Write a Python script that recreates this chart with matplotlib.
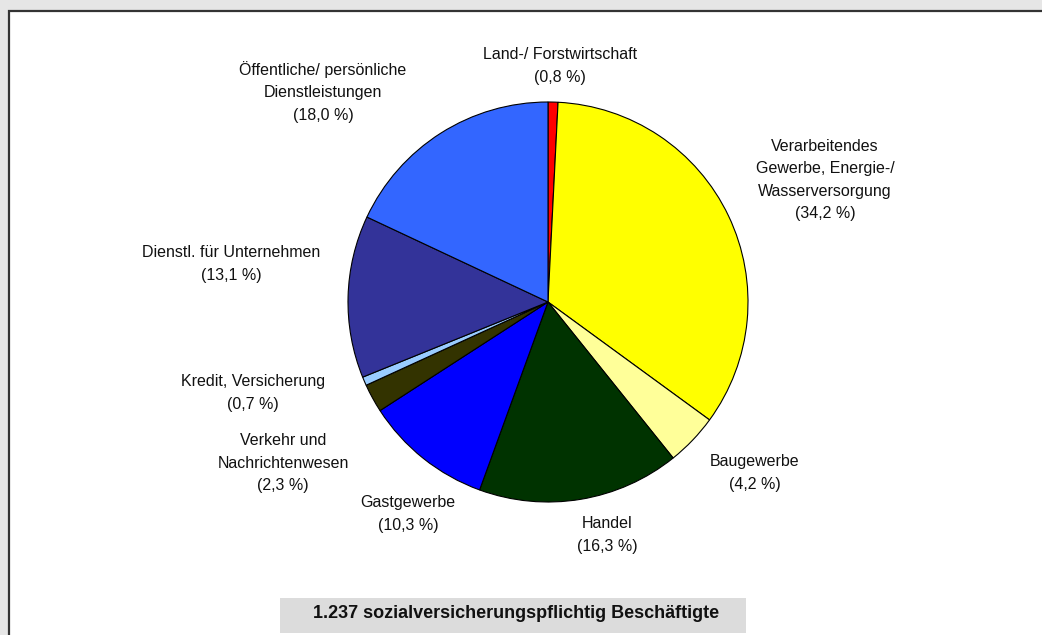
import matplotlib
matplotlib.use("Agg")
import matplotlib.pyplot as plt
from matplotlib.patches import Rectangle

plt.rcParams['font.family'] = ['Liberation Sans', 'DejaVu Sans']

# Anteile der Wirtschaftsbereiche (im Uhrzeigersinn ab 12 Uhr)
branchen = [
    'Land-/ Forstwirtschaft',
    'Verarbeitendes\nGewerbe, Energie-/\nWasserversorgung',
    'Baugewerbe',
    'Handel',
    'Gastgewerbe',
    'Verkehr und\nNachrichtenwesen',
    'Kredit, Versicherung',
    'Dienstl. für Unternehmen',
    'Öffentliche/ persönliche\nDienstleistungen',
]
anteile = [0.8, 34.2, 4.2, 16.3, 10.3, 2.3, 0.7, 13.1, 18.0]
farben = ['#ff0000', '#ffff00', '#ffff99', '#003300', '#0000ff',
          '#333300', '#99ccff', '#333399', '#3366ff']

# Beschriftungspositionen in Pixeln (x, y von oben)
label_pos = [(560, 66), (825, 180), (755, 473), (607, 535), (408, 514),
             (283, 463), (253, 393), (231, 264), (323, 92)]

gesamt = '1.237 sozialversicherungspflichtig Beschäftigte'

W, H = 1042, 635
fig = plt.figure(figsize=(W / 100, H / 100), dpi=100, facecolor='#e6e6e6')
ax = fig.add_axes([0, 0, 1, 1])

# weisser Rahmen
ax.add_patch(Rectangle((8.5, -20), W + 20, H - 10.5 + 20, facecolor='white',
                       edgecolor='#333333', linewidth=1.6, zorder=0))

ax.pie(anteile, colors=farben, startangle=90, counterclock=False,
       center=(548, H - 302), radius=200, frame=True,
       wedgeprops=dict(edgecolor='black', linewidth=0.8))
ax.set_xlim(0, W)
ax.set_ylim(0, H)
ax.set_aspect('equal')
ax.axis('off')

for name, wert, (x, y) in zip(branchen, anteile, label_pos):
    prozent = f'{wert:.1f}'.replace('.', ',')
    txt = f'{name}\n({prozent} %)'
    ax.text(x, H - y, txt, ha='center', va='center', multialignment='center',
            fontsize=11.5, linespacing=1.6, color='#111111')

# Summenfeld unten
ax.add_patch(Rectangle((280, H - 633), 466, 35, facecolor='#dcdcdc',
                       edgecolor='none', zorder=1))
ax.text(516, H - 614, gesamt, ha='center', va='center', fontsize=13,
        fontweight='bold', color='#111111', zorder=2)

fig.savefig('out.png', dpi=100, facecolor=fig.get_facecolor())
